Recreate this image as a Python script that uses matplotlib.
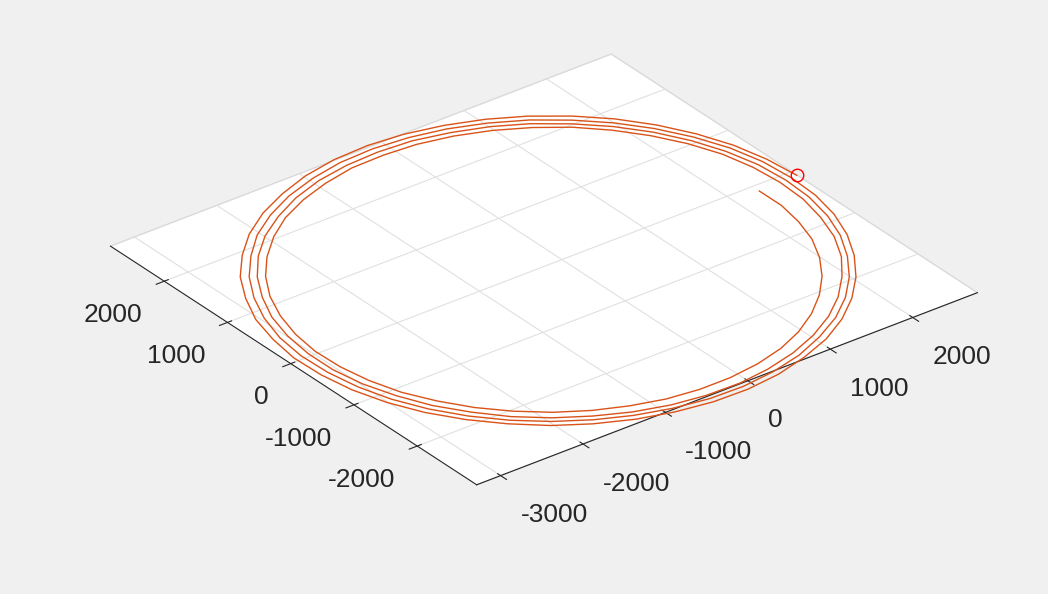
"""
Orbit ground track plotted in the x-y plane, seen in 3D.
"""
import numpy as np
import matplotlib
matplotlib.use("Agg")
import matplotlib.pyplot as plt

plt.rcParams['font.family'] = ['Liberation Sans', 'DejaVu Sans']
plt.rcParams['axes.unicode_minus'] = False
plt.rcParams['grid.color'] = '#e0e0e0'
plt.rcParams['grid.linewidth'] = 0.8

# Axis limits and ticks
x_lim = [-3290, 2785]
y_lim = [-2940, 2850]
x_ticks = [-3000, -2000, -1000, 0, 1000, 2000]
y_ticks = [-2000, -1000, 0, 1000, 2000]

# Trajectory (x, y), four revolutions
orbit_x = [2780, 2740, 2650, 2500, 2300, 2050, 1760, 1420, 1060, 670,
           260, -150, -570, -980, -1370, -1740, -2090, -2390, -2660, -2870,
           -3040, -3140, -3200, -3190, -3130, -3010, -2840, -2610, -2340, -2030,
           -1690, -1310, -920, -510, -100, 310, 710, 1090, 1440, 1760,
           2040, 2280, 2470, 2610, 2690, 2710, 2680, 2590, 2440, 2240,
           2000, 1710, 1390, 1030, 650, 260, -150, -560, -950, -1340,
           -1700, -2040, -2330, -2590, -2800, -2960, -3070, -3120, -3110, -3050,
           -2940, -2770, -2550, -2280, -1980, -1640, -1280, -900, -500, -100,
           300, 690, 1060, 1410, 1720, 1990, 2220, 2410, 2540, 2620,
           2640, 2610, 2520, 2380, 2190, 1950, 1670, 1350, 1010, 640,
           250, -150, -540, -930, -1310, -1660, -1990, -2280, -2530, -2730,
           -2890, -2990, -3040, -3040, -2980, -2860, -2700, -2480, -2230, -1930,
           -1600, -1250, -870, -490, -90, 290, 670, 1030, 1370, 1670,
           1940, 2170, 2350, 2470, 2550, 2570, 2540, 2460, 2320, 2130,
           1900, 1630, 1320, 980, 620, 240, -140, -530, -910, -1270,
           -1620, -1930, -2220, -2460, -2660, -2810, -2910, -2960, -2950, -2890,
           -2780, -2610, -2400, -2150, -1860, -1540, -1200, -840, -470, -100,
           270, 630, 960, 1270, 1550, 1790, 1990, 2150, 2250, 2310,
           2310]
orbit_y = [-90, 330, 740, 1130, 1500, 1840, 2130, 2390, 2590, 2740,
           2840, 2880, 2860, 2780, 2640, 2460, 2220, 1940, 1620, 1260,
           880, 480, 70, -350, -760, -1160, -1530, -1880, -2190, -2470,
           -2690, -2870, -2990, -3060, -3070, -3020, -2910, -2760, -2550, -2290,
           -1990, -1650, -1290, -900, -500, -90, 320, 720, 1100, 1460,
           1780, 2070, 2320, 2520, 2670, 2760, 2800, 2780, 2700, 2570,
           2390, 2160, 1880, 1570, 1220, 850, 460, 60, -350, -750,
           -1130, -1500, -1840, -2150, -2410, -2630, -2800, -2920, -2990, -3000,
           -2950, -2850, -2690, -2490, -2240, -1950, -1620, -1260, -890, -490,
           -100, 300, 690, 1060, 1410, 1730, 2010, 2260, 2450, 2590,
           2690, 2720, 2700, 2630, 2500, 2320, 2100, 1830, 1520, 1180,
           820, 440, 50, -340, -730, -1110, -1470, -1800, -2100, -2360,
           -2570, -2740, -2860, -2920, -2930, -2880, -2780, -2630, -2430, -2190,
           -1900, -1590, -1240, -870, -490, -100, 290, 670, 1030, 1370,
           1680, 1960, 2190, 2380, 2520, 2610, 2640, 2630, 2550, 2430,
           2260, 2040, 1770, 1480, 1150, 790, 420, 40, -340, -720,
           -1090, -1430, -1750, -2030, -2280, -2480, -2630, -2740, -2790, -2790,
           -2740, -2640, -2490, -2290, -2050, -1780, -1480, -1150, -810, -460,
           -110]

line_color = (0.85, 0.325, 0.098)
text_color = '#262626'

fig = plt.figure(figsize=(10.48, 5.94), dpi=100, facecolor='#f0f0f0')
ax = fig.add_axes([0.0114, 0.033, 1, 1], projection='3d', proj_type='ortho')
ax.set_facecolor('#f0f0f0')
ax.view_init(elev=30, azim=-127.5)
ax.set_xlim(x_lim)
ax.set_ylim(y_lim)
ax.set_zlim(-1, 1)
ax.set_box_aspect((x_lim[1] - x_lim[0], y_lim[1] - y_lim[0], 1), zoom=1.425)

# Flat box: only the floor is shown
for axis in (ax.xaxis, ax.yaxis):
    axis.set_pane_color((1, 1, 1, 0))
    axis.pane.set_edgecolor((1, 1, 1, 0))
    axis.line.set_color(text_color)
ax.zaxis.set_pane_color((1, 1, 1, 1))
ax.zaxis.pane.set_edgecolor('#d9d9d9')
ax.zaxis.line.set_color((1, 1, 1, 0))

ax.set_xticks(x_ticks)
ax.set_yticks(y_ticks)
ax.set_zticks([])
ax.xaxis.set_ticklabels([])
ax.yaxis.set_ticklabels([])
ax.tick_params(colors=text_color)

# Tick labels sit on the floor, just outside the box edges
for v in x_ticks:
    ax.text(v - 313, y_lim[0] - 722, 0, f"{v}", ha='left', va='center',
            fontsize=19, color=text_color)
for v in y_ticks:
    ax.text(x_lim[0] - 562, v - 387, 0, f"{v}", ha='right', va='center',
            fontsize=19, color=text_color)

zeros = np.zeros(len(orbit_x))
ax.plot(orbit_x, orbit_y, zeros, color=line_color, lw=1.0, clip_on=False)
ax.plot(orbit_x[:1], orbit_y[:1], [0], 'o', mfc='none', mec='red', ms=9,
        clip_on=False)

fig.savefig('out.png', facecolor=fig.get_facecolor())
